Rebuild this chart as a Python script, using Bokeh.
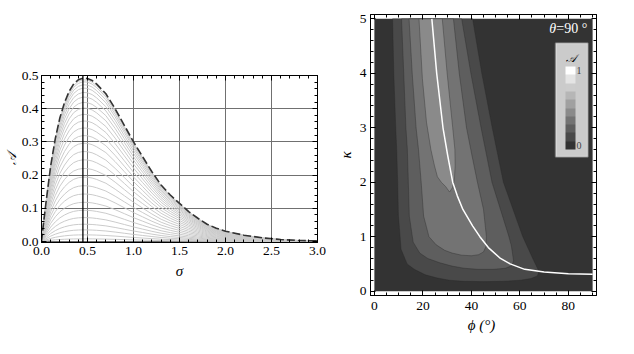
import numpy as np
from bokeh.plotting import figure
from bokeh.models import (Range1d, LinearAxis, SingleIntervalTicker, FixedTicker,
                          NumeralTickFormatter, ColorBar, LinearColorMapper, Label, Span,
                          Spacer, BoxAnnotation)
from bokeh.layouts import row, column
from bokeh.embed import file_html
from bokeh.resources import INLINE

# ---------------- left panel data ----------------
sigma = [0, 0.02, 0.05, 0.1, 0.15, 0.2, 0.25, 0.3, 0.35, 0.4, 0.45, 0.5, 0.55, 0.6,
         0.7, 0.8, 0.9, 1.0, 1.1, 1.2, 1.3, 1.4, 1.5, 1.6, 1.7, 1.8, 1.9, 2.0,
         2.2, 2.4, 2.6, 2.8, 3.0]
envelope = [0, 0.05, 0.12, 0.228, 0.31, 0.373, 0.418, 0.452, 0.475, 0.487, 0.492,
            0.491, 0.485, 0.474, 0.445, 0.40, 0.35, 0.30, 0.255, 0.21, 0.17, 0.14,
            0.115, 0.09, 0.07, 0.052, 0.04, 0.031, 0.019, 0.011, 0.006, 0.003, 0.002]
peak_heights = [0.008, 0.02, 0.035, 0.052, 0.072, 0.094, 0.118, 0.143, 0.168, 0.194,
                0.22, 0.246, 0.271, 0.296, 0.319, 0.342, 0.363, 0.383, 0.402, 0.419,
                0.435, 0.449, 0.462, 0.472, 0.481, 0.487]
sigma_mark = 0.45

# ---------------- right panel data ----------------
phi_lim = [0, 90]
kappa_lim = [0, 5]
levels = [0, 0.1, 0.2, 0.3, 0.4, 0.5, 0.6, 0.7, 0.8, 0.9, 1.0]
palette = ["#333333", "#494949", "#5e5e5e", "#737373", "#8a8a8a",
           "#a0a0a0", "#b6b6b6", "#cccccc", "#e4e4e4", "#ffffff"]

L1_phi = [7.5, 8.0, 8.8, 9.2, 9.6, 9.9, 11.0, 13.5, 16.5, 21, 26, 31, 37, 45, 53, 60,
          64.5, 67.2, 67.9, 65.3, 61.2, 57.2, 53.2, 48.6, 44.3, 40.5]
L1_kappa = [5, 4, 3, 2.6, 2.0, 1.4, 0.77, 0.5, 0.4, 0.3, 0.24, 0.2, 0.18, 0.175, 0.18,
            0.2, 0.23, 0.28, 0.36, 0.6, 1.0, 1.5, 2.0, 3.0, 4.0, 5]

L2_phi = [11.2, 12.1, 13.0, 13.6, 14.0, 14.4, 16.0, 18.7, 22, 27, 32, 37, 43, 49, 54,
          56.8, 57.4, 56.5, 55.5, 52, 48.5, 44, 39.8, 36]
L2_kappa = [5, 4, 3, 2.6, 2.0, 1.38, 0.9, 0.7, 0.6, 0.52, 0.46, 0.42, 0.4, 0.4, 0.42,
            0.47, 0.56, 0.83, 1.0, 1.5, 2.0, 3.0, 4.0, 5]

L3_phi = [14.3, 15.6, 17.2, 18.2, 19.3, 20.3, 22.5, 25.5, 29, 32, 36, 40, 43, 45, 46,
          46.2, 45, 42.5, 40.2, 38, 35, 32.6]
L3_kappa = [5, 4, 3, 2.6, 2.0, 1.38, 1.0, 0.85, 0.75, 0.7, 0.66, 0.65, 0.67, 0.72, 0.82,
            1.0, 1.5, 2.0, 2.5, 3.0, 4.0, 5]

L4_phi = [18.4, 19.8, 21.5, 23.3, 24.8, 26.0, 27.6, 29.4, 31.0, 32.2, 33.0, 33.3, 33.2,
          32.3, 30.0, 28.0]
L4_kappa = [5.0, 3.9, 3.1, 2.6, 2.3, 2.1, 2.0, 1.92, 1.82, 1.9, 2.05, 2.3, 2.6, 3.0,
            4.0, 5.0]

white_phi = [23.7, 25.7, 28.3, 30.2, 32.3, 34.2, 36.5, 40.5, 43.5, 47, 52, 56, 62, 70, 80, 90]
white_kappa = [5, 4, 3, 2.5, 2.0, 1.75, 1.5, 1.2, 1.0, 0.8, 0.6, 0.5, 0.4, 0.35, 0.32, 0.31]

SERIF = "Liberation Serif"


def style_axis(ax, ticker, labels=True, fmt=None):
    ax.ticker = ticker
    ax.axis_line_color = "black"
    ax.axis_line_width = 1
    ax.major_tick_in = 5
    ax.major_tick_out = 0
    ax.minor_tick_in = 3
    ax.minor_tick_out = 0
    ax.major_tick_line_color = "black"
    ax.minor_tick_line_color = "black"
    ax.major_label_text_font = SERIF
    ax.axis_label_text_font = SERIF
    ax.axis_label_text_font_size = "15px"
    ax.axis_label_text_color = "black"
    ax.axis_label_standoff = 3
    if labels:
        ax.major_label_text_font_size = "13.5px"
        ax.major_label_text_color = "black"
        ax.major_label_standoff = 4
    else:
        ax.major_label_text_font_size = "1px"
        ax.major_label_text_color = None
        ax.major_label_standoff = 0
    if fmt is not None:
        ax.formatter = fmt


# ---------------- left figure ----------------
p1 = figure(frame_width=276, frame_height=167, x_range=Range1d(0, 3),
            y_range=Range1d(-0.003, 0.5),
            output_backend="svg", toolbar_location=None,
            min_border_left=35, min_border_right=9, min_border_top=14, min_border_bottom=45)
p1.outline_line_color = "black"
p1.background_fill_color = "white"
p1.border_fill_color = "white"

fmt1 = NumeralTickFormatter(format="0.0")
style_axis(p1.xaxis[0], SingleIntervalTicker(interval=0.5, num_minor_ticks=5), True, fmt1)
style_axis(p1.yaxis[0], SingleIntervalTicker(interval=0.1, num_minor_ticks=5), True, fmt1)
p1.xaxis[0].axis_label = "σ"
p1.xaxis[0].axis_label_text_font_style = "italic"
p1.xaxis[0].axis_label_standoff = 5
p1.yaxis[0].axis_label = "𝒜"
p1.yaxis[0].axis_label_standoff = 0
p1.yaxis[0].major_label_standoff = 3
p1.yaxis[0].axis_label_text_font_size = "13px"
ax_top = LinearAxis()
style_axis(ax_top, SingleIntervalTicker(interval=0.5, num_minor_ticks=5), False)
p1.add_layout(ax_top, "above")
ax_right = LinearAxis()
style_axis(ax_right, SingleIntervalTicker(interval=0.1, num_minor_ticks=5), False)
p1.add_layout(ax_right, "right")

p1.xgrid.grid_line_color = "#707070"
p1.ygrid.grid_line_color = "#707070"
p1.xgrid.grid_line_width = 1
p1.ygrid.grid_line_width = 1

env_max = max(envelope)
xs = [sigma for _ in peak_heights]
ys = [[a * h / env_max for a in envelope] for h in peak_heights]
p1.multi_line(xs, ys, line_color="#cbcbcb", line_width=1)
p1.line(sigma, envelope, line_color="#333333", line_width=1.6, line_dash="8 3")
p1.add_layout(Span(location=sigma_mark, dimension="height", line_color="black", line_width=1.3))

# ---------------- right figure ----------------
p2 = figure(frame_width=226, frame_height=281, x_range=Range1d(-1.6, 91.6),
            y_range=Range1d(-0.08, 5.08),
            output_backend="svg", toolbar_location=None,
            min_border_left=44, min_border_right=12, min_border_top=14, min_border_bottom=45)
p2.outline_line_color = "black"
p2.background_fill_color = "white"
p2.border_fill_color = "white"
p2.xgrid.visible = False
p2.ygrid.visible = False

style_axis(p2.xaxis[0], SingleIntervalTicker(interval=20, num_minor_ticks=4), True)
style_axis(p2.yaxis[0], SingleIntervalTicker(interval=1, num_minor_ticks=5), True)
p2.xaxis[0].axis_label = "ϕ  (°)"
p2.xaxis[0].axis_label_text_font_style = "italic"
p2.xaxis[0].major_label_standoff = 6
p2.xaxis[0].axis_label_standoff = 4
p2.yaxis[0].axis_label = "κ"
ax_top2 = LinearAxis()
style_axis(ax_top2, SingleIntervalTicker(interval=20, num_minor_ticks=4), False)
p2.add_layout(ax_top2, "above")
ax_right2 = LinearAxis()
style_axis(ax_right2, SingleIntervalTicker(interval=1, num_minor_ticks=5), False)
p2.add_layout(ax_right2, "right")

p2.quad(left=phi_lim[0], right=phi_lim[1], bottom=kappa_lim[0], top=kappa_lim[1],
        fill_color=palette[0], line_color=None)
regions = [(L1_phi, L1_kappa), (L2_phi, L2_kappa), (L3_phi, L3_kappa), (L4_phi, L4_kappa)]
for i, (ph, ka) in enumerate(regions):
    p2.patch(ph, ka, fill_color=palette[i + 1], line_color="#262626", line_alpha=0.45,
             line_width=0.8)
p2.line(white_phi, white_kappa, line_color="white", line_width=1.5)

# legend box (contour levels)
p2.add_layout(BoxAnnotation(left=74.8, right=88.0, bottom=2.47, top=4.55,
                            fill_color="#cbcbcb", fill_alpha=1,
                            line_color="white", line_width=2))
mapper = LinearColorMapper(palette=palette, low=levels[0], high=levels[-1])
cb = ColorBar(color_mapper=mapper, ticker=FixedTicker(ticks=[0.05, 0.95]),
              major_label_overrides={0.05: "0", 0.95: "1"},
              location=(195, 146), width=10, height=83, padding=0,
              major_label_text_font=SERIF, major_label_text_font_size="10px",
              label_standoff=1, major_tick_line_color=None, bar_line_color=None,
              background_fill_alpha=0, border_line_color=None)
p2.add_layout(cb)
p2.add_layout(Label(x=80.9, y=4.17, text="𝒜", text_color="black", text_font=SERIF,
                    text_font_size="11px", text_font_style="italic", text_align="center"))

p2.add_layout(Label(x=87.8, y=4.68, text="=90 °", text_color="white", text_font=SERIF,
                    text_font_size="14px", text_align="right"))
p2.add_layout(Label(x=75.0, y=4.68, text="θ", text_color="white", text_font=SERIF,
                    text_font_size="14px", text_font_style="italic", text_align="right"))

layout = row(column(Spacer(height=61, width=10), p1), p2)
open("out.html", "w").write(file_html(layout, INLINE))
